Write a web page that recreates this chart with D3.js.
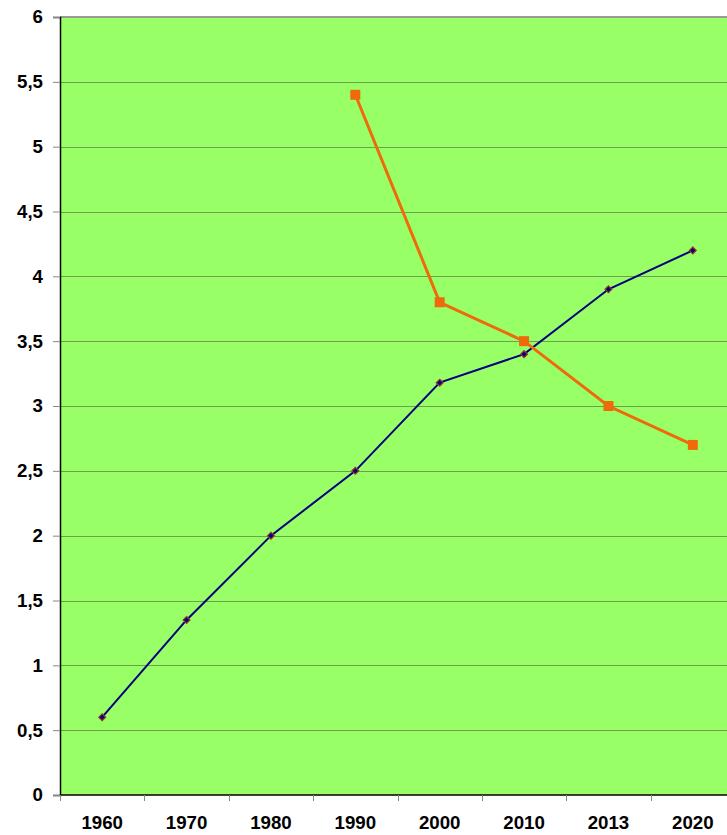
<!DOCTYPE html>
<html>
<head>
<meta charset="utf-8">
<script src="https://cdn.jsdelivr.net/npm/d3@7"></script>
<style>
  body { margin: 0; background: #fff; overflow: hidden; }
  svg { display: block; }
  .tick text { font-family: Arial, "Liberation Sans", sans-serif; font-weight: bold; font-size: 18.7px; fill: #000; }
</style>
</head>
<body>
<script>
// chart data
const years = ["1960", "1970", "1980", "1990", "2000", "2010", "2013", "2020"];
const blueValues = [0.6, 1.35, 2.0, 2.5, 3.18, 3.4, 3.9, 4.2];
const orangeYears = ["1990", "2000", "2010", "2013", "2020"];
const orangeValues = [5.4, 3.8, 3.5, 3.0, 2.7];
const yTicks = [0, 0.5, 1, 1.5, 2, 2.5, 3, 3.5, 4, 4.5, 5, 5.5, 6];

// set the dimensions and margins of the graph
var margin = {top: 17, right: -8, bottom: 40, left: 60},
    width = 727 - margin.left - margin.right,
    height = 835 - margin.top - margin.bottom;

var svg = d3.select("body")
  .append("svg")
    .attr("width", 727)
    .attr("height", 835)
  .append("g")
    .attr("transform", "translate(" + margin.left + "," + margin.top + ")");

var x = d3.scaleBand()
    .domain(years)
    .range([0, width]);

var y = d3.scaleLinear()
    .domain([0, 6])
    .range([height, 0]);

// plot background
svg.append("rect")
    .attr("x", 0)
    .attr("y", 0)
    .attr("width", width)
    .attr("height", height)
    .style("fill", "#99FF66");

// horizontal gridlines
svg.selectAll(".grid")
    .data(yTicks.filter(d => d > 0 && d < 6))
    .enter()
    .append("line")
      .attr("x1", 0)
      .attr("x2", width)
      .attr("y1", d => Math.round(y(d)) + 0.5)
      .attr("y2", d => Math.round(y(d)) + 0.5)
      .style("stroke", "#6E9E4E")
      .style("stroke-width", 1.2);

// top border
svg.append("line")
    .attr("x1", 0).attr("x2", width)
    .attr("y1", 0).attr("y2", 0)
    .style("stroke", "#999")
    .style("stroke-width", 2);

// y axis
var yAxis = svg.append("g")
    .call(d3.axisLeft(y).tickValues(yTicks).tickSize(7).tickPadding(10)
      .tickFormat(d => String(d).replace(".", ",")));
yAxis.select(".domain").style("stroke", "#000").style("stroke-width", 1.5);
yAxis.selectAll(".tick line").style("stroke", "#888");

// x axis, ticks at band edges
var xAxis = svg.append("g")
    .attr("transform", "translate(0," + height + ")")
    .call(d3.axisBottom(x).tickSize(0).tickPadding(21));
xAxis.select(".domain").remove();
svg.append("line")
    .attr("x1", 0).attr("x2", width)
    .attr("y1", height).attr("y2", height)
    .style("stroke", "#000")
    .style("stroke-width", 1.5);
svg.selectAll(".xtick")
    .data(years)
    .enter()
    .append("line")
      .attr("x1", d => Math.round(x(d)) + 0.5)
      .attr("x2", d => Math.round(x(d)) + 0.5)
      .attr("y1", height)
      .attr("y2", height + 6)
      .style("stroke", "#888");

var cx = d => x(d) + x.bandwidth() / 2;

// blue series
var blue = years.map((d, i) => ({year: d, value: blueValues[i]}));
svg.append("path")
    .datum(blue)
    .attr("d", d3.line().x(d => cx(d.year)).y(d => y(d.value)))
    .style("fill", "none")
    .style("stroke", "#000080")
    .style("stroke-width", 2);

// orange series
var orange = orangeYears.map((d, i) => ({year: d, value: orangeValues[i]}));
svg.append("path")
    .datum(orange)
    .attr("d", d3.line().x(d => cx(d.year)).y(d => y(d.value)))
    .style("fill", "none")
    .style("stroke", "#EE6A0A")
    .style("stroke-width", 3);

svg.selectAll(".sq")
    .data(orange)
    .enter()
    .append("rect")
      .attr("x", d => cx(d.year) - 5)
      .attr("y", d => y(d.value) - 5)
      .attr("width", 10)
      .attr("height", 10)
      .style("fill", "#EE6A0A");

svg.selectAll(".dm")
    .data(blue)
    .enter()
    .append("path")
      .attr("d", d3.symbol().type(d3.symbolDiamond2).size(30))
      .attr("transform", d => "translate(" + cx(d.year) + "," + y(d.value) + ")")
      .style("fill", "#000080")
      .style("stroke", "#9A3A20")
      .style("stroke-width", 1.2);
</script>
</body>
</html>
